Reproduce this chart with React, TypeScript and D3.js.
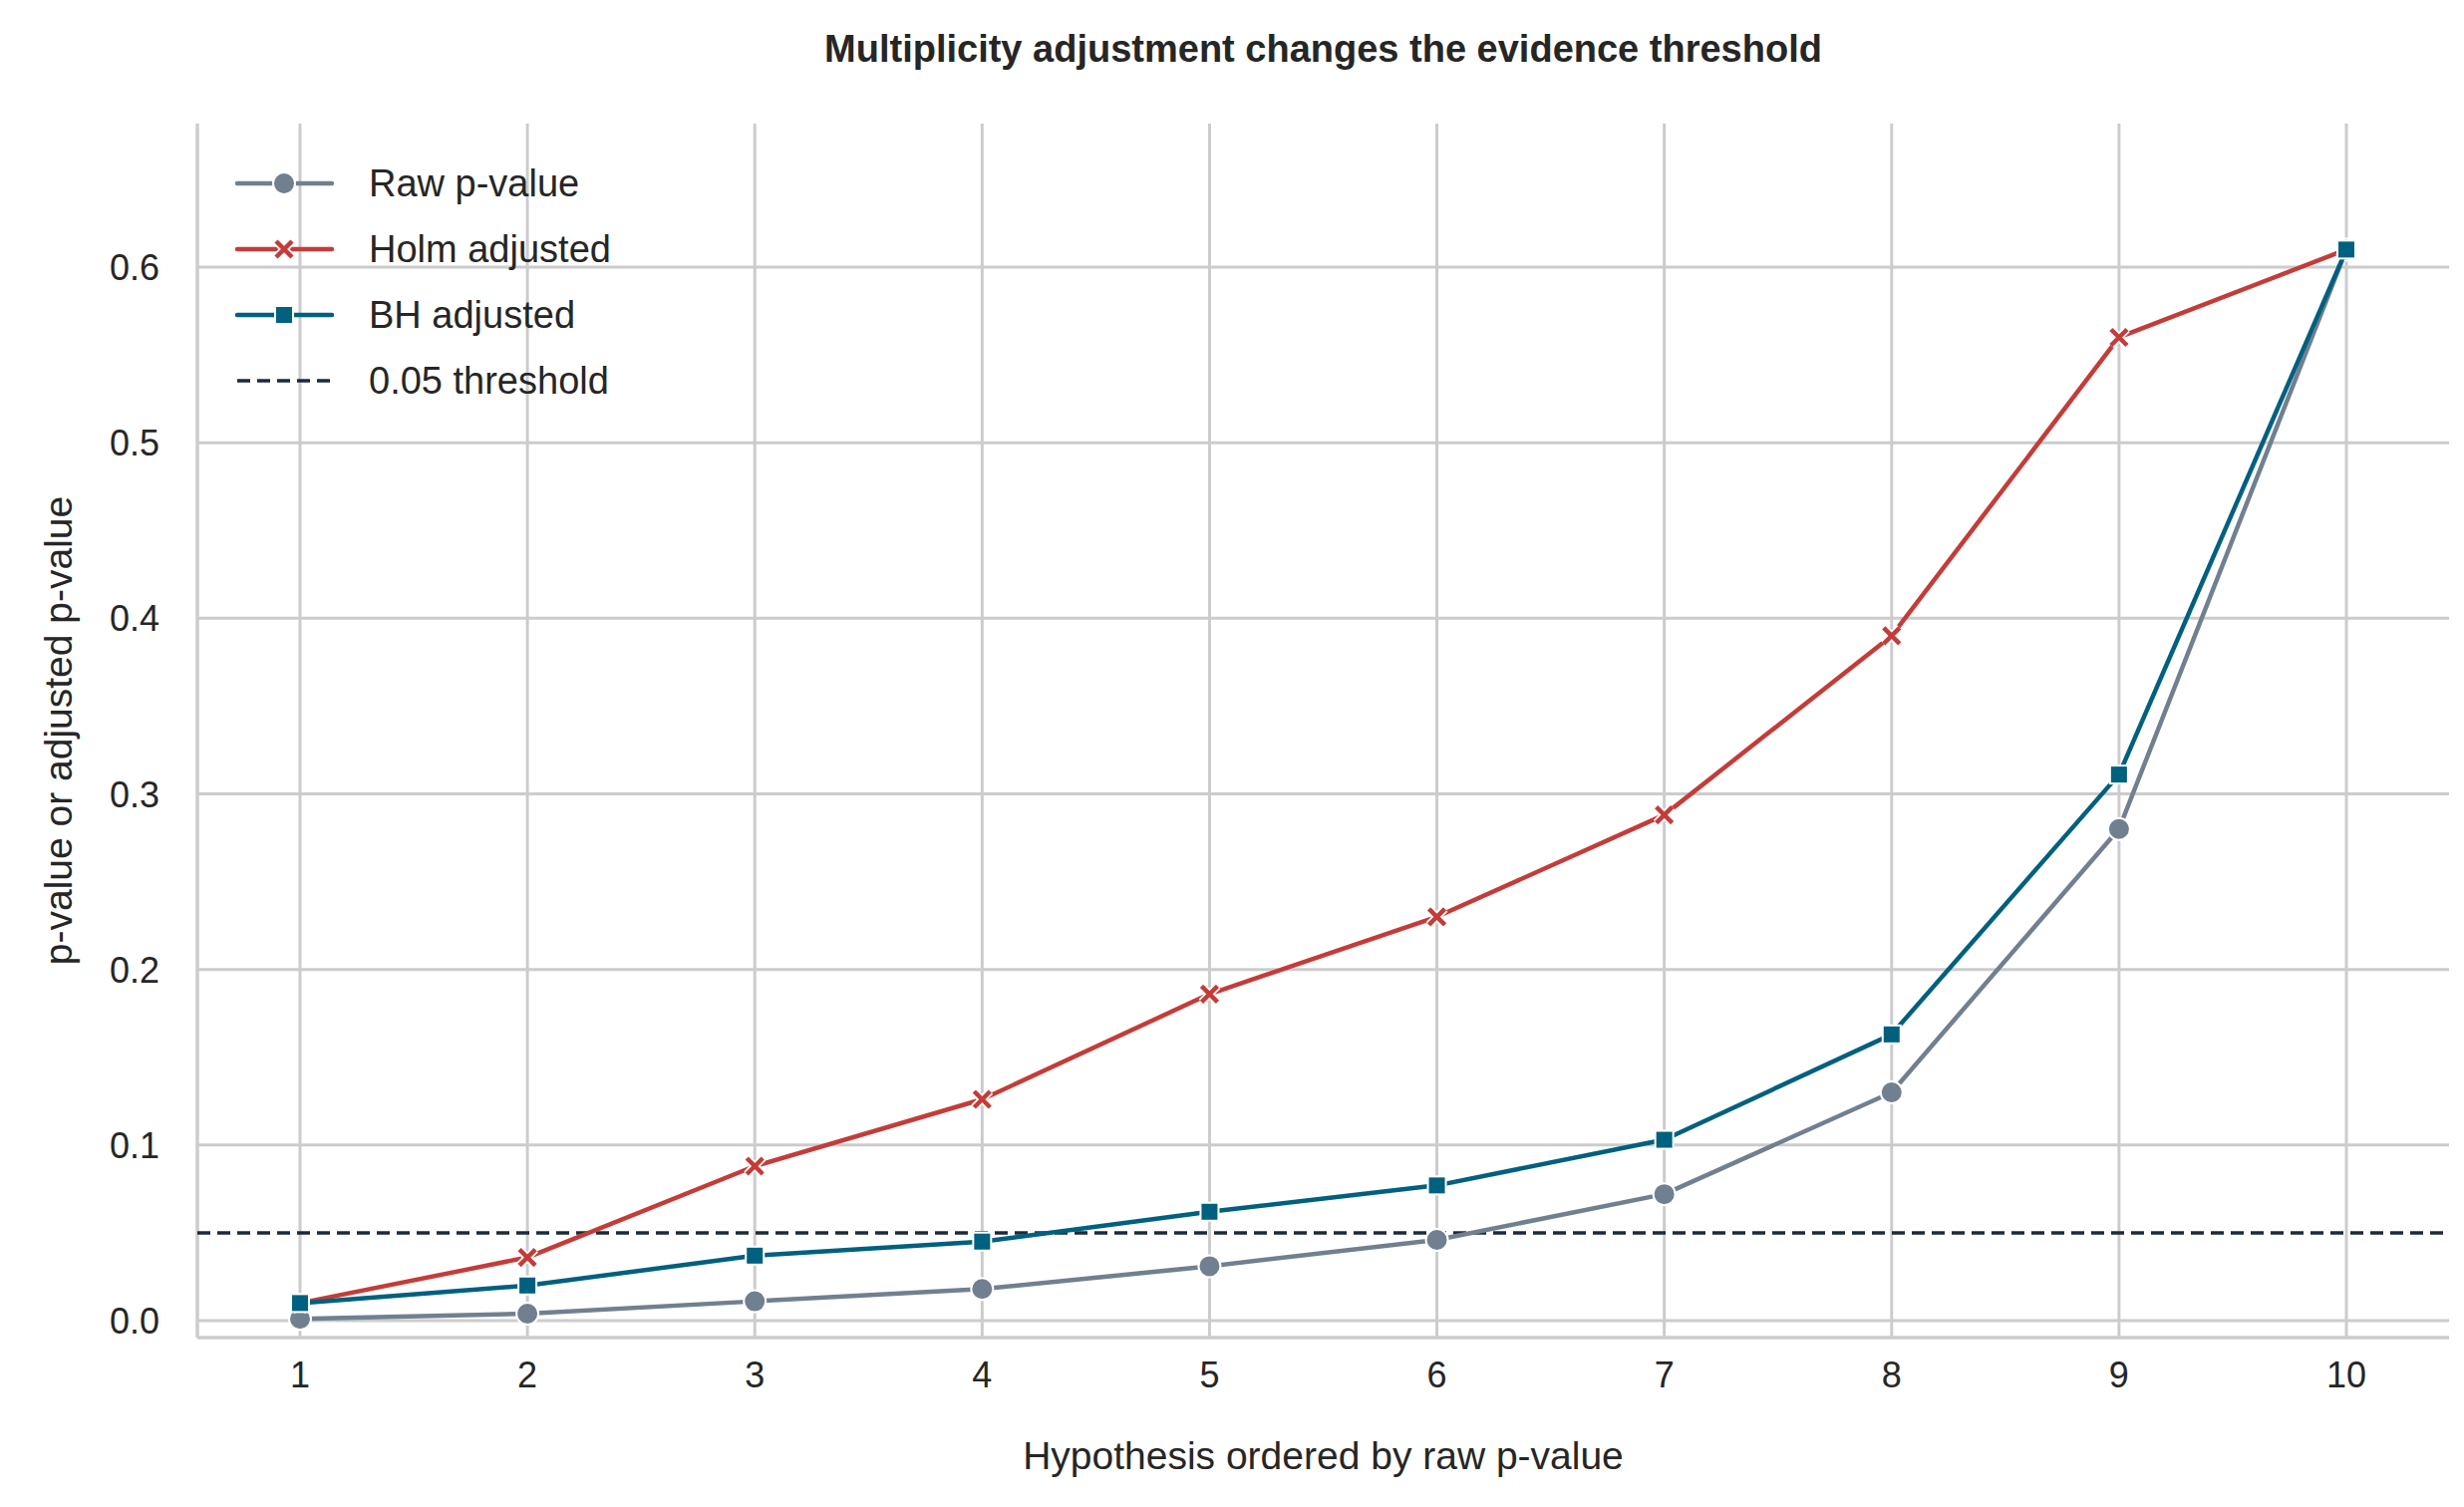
import * as d3 from "d3";

const hypotheses = [1, 2, 3, 4, 5, 6, 7, 8, 9, 10];
const rawP = [0.001, 0.004, 0.011, 0.018, 0.031, 0.046, 0.072, 0.13, 0.28, 0.61];
const holmP = [0.01, 0.036, 0.088, 0.126, 0.186, 0.23, 0.288, 0.39, 0.56, 0.61];
const bhP = [0.01, 0.02, 0.037, 0.045, 0.062, 0.077, 0.103, 0.163, 0.311, 0.61];
const yTicks = [0, 0.1, 0.2, 0.3, 0.4, 0.5, 0.6];
const threshold = 0.05;

const W = 2472;
const H = 1512;
const left = 198, right = 2457, top = 124, bottom = 1342;
const font = "'Liberation Sans', Arial, sans-serif";

const series = [
  { name: "Raw p-value", values: rawP, color: "#708090", marker: "circle" },
  { name: "Holm adjusted", values: holmP, color: "#c43c39", marker: "x" },
  { name: "BH adjusted", values: bhP, color: "#00607f", marker: "square" },
];

function Marker({ kind, x, y, color }: { kind: string; x: number; y: number; color: string }) {
  if (kind === "circle")
    return <circle cx={x} cy={y} r={11} fill={color} stroke="#fff" strokeWidth={2} />;
  if (kind === "square")
    return <rect x={x - 9} y={y - 9} width={18} height={18} fill={color} stroke="#fff" strokeWidth={2} />;
  const s = 8;
  return (
    <g>
      <g stroke="#fff" strokeWidth={8}>
        <line x1={x - s} y1={y - s} x2={x + s} y2={y + s} />
        <line x1={x - s} y1={y + s} x2={x + s} y2={y - s} />
      </g>
      <g stroke={color} strokeWidth={4.5}>
        <line x1={x - s} y1={y - s} x2={x + s} y2={y + s} />
        <line x1={x - s} y1={y + s} x2={x + s} y2={y - s} />
      </g>
    </g>
  );
}

export default function App() {
  const x = d3.scaleLinear().domain([1, 10]).range([301, 2354]);
  const y = d3.scaleLinear().domain([0, 0.6]).range([1325, 268]);
  const line = d3
    .line<number>()
    .x((_, i) => x(hypotheses[i]))
    .y((d) => y(d));

  return (
    <svg width={W} height={H} style={{ display: "block", background: "#fff", position: "absolute", left: 0, top: 0 }} fontFamily={font}>
      <text x={(left + right) / 2} y={62} textAnchor="middle" fontSize={38} fontWeight="bold" fill="#262626">
        Multiplicity adjustment changes the evidence threshold
      </text>
      {hypotheses.map((h) => (
        <line key={"gx" + h} x1={x(h)} x2={x(h)} y1={top} y2={bottom} stroke="#cccccc" strokeWidth={3} />
      ))}
      {yTicks.map((t) => (
        <line key={"gy" + t} x1={left} x2={right} y1={y(t)} y2={y(t)} stroke="#cccccc" strokeWidth={3} />
      ))}
      <line x1={left} x2={left} y1={top} y2={bottom} stroke="#cccccc" strokeWidth={3.5} />
      <line x1={left} x2={right} y1={bottom} y2={bottom} stroke="#cccccc" strokeWidth={3.5} />
      {yTicks.map((t) => (
        <text key={"ty" + t} x={160} y={y(t) + 13} textAnchor="end" fontSize={36} fill="#262626">
          {d3.format(".1f")(t)}
        </text>
      ))}
      {hypotheses.map((h) => (
        <text key={"tx" + h} x={x(h)} y={1392} textAnchor="middle" fontSize={36} fill="#262626">
          {h}
        </text>
      ))}
      <text x={(left + right) / 2} y={1474} textAnchor="middle" fontSize={39} fill="#262626">
        Hypothesis ordered by raw p-value
      </text>
      <text transform={`translate(72, ${(top + bottom) / 2}) rotate(-90)`} textAnchor="middle" fontSize={39} fill="#262626">
        p-value or adjusted p-value
      </text>
      <line x1={left} x2={right} y1={y(threshold)} y2={y(threshold)} stroke="#1b2a3a" strokeWidth={3.5} strokeDasharray="13,7" />
      {series.map((s) => (
        <g key={s.name}>
          <path d={line(s.values) ?? ""} fill="none" stroke={s.color} strokeWidth={4.5} strokeLinejoin="round" />
          {s.values.map((v, i) => (
            <Marker key={i} kind={s.marker} x={x(hypotheses[i])} y={y(v)} color={s.color} />
          ))}
        </g>
      ))}
      {[...series.map((s) => ({ name: s.name, color: s.color, marker: s.marker, dash: false })),
        { name: "0.05 threshold", color: "#1b2a3a", marker: "", dash: true }].map((it, i) => {
        const ly = 184 + i * 66;
        return (
          <g key={it.name}>
            <line x1={238} x2={333} y1={ly} y2={ly} stroke={it.color} strokeWidth={it.dash ? 3.5 : 4.5}
              strokeDasharray={it.dash ? "13,7" : undefined} strokeLinecap={it.dash ? "butt" : "round"} />
            {it.marker && <Marker kind={it.marker} x={285} y={ly} color={it.color} />}
            <text x={370} y={ly + 13} fontSize={38} fill="#262626">{it.name}</text>
          </g>
        );
      })}
    </svg>
  );
}
